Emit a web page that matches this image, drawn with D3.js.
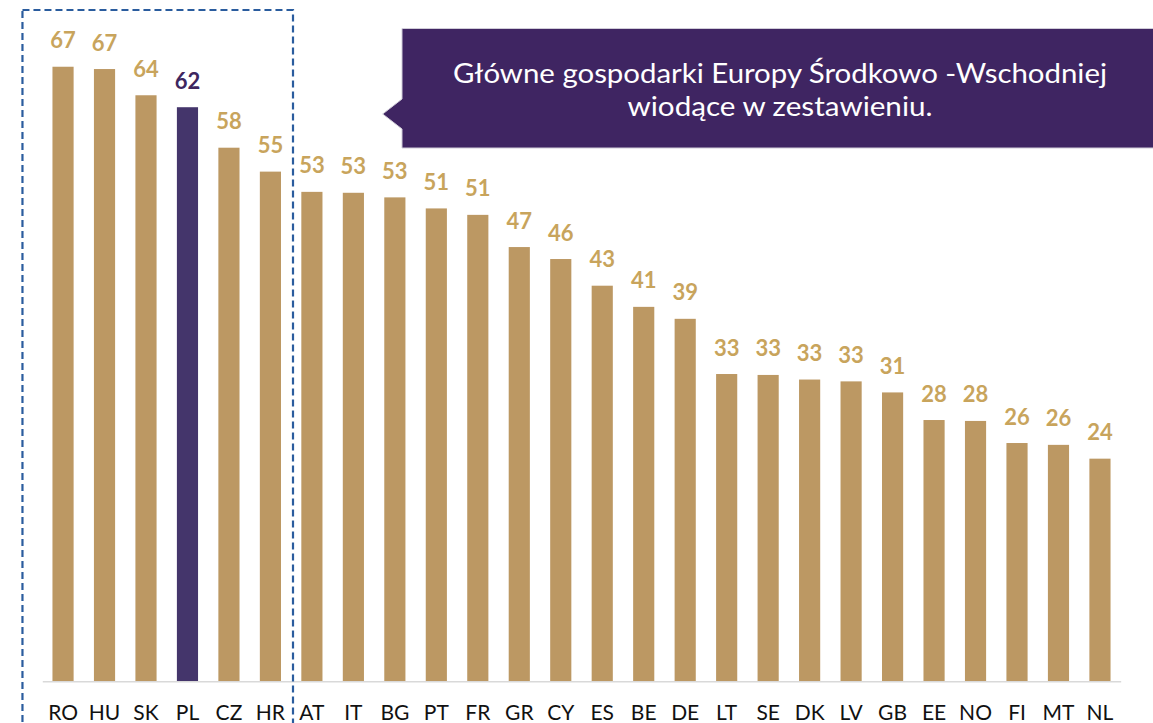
<!DOCTYPE html>
<html>
<head>
<meta charset="utf-8">
<script src="https://cdn.jsdelivr.net/npm/d3@7"></script>
<style>
  html, body { margin: 0; padding: 0; background: #fff; }
  svg { display: block; }
</style>
</head>
<body>
<svg id="chart" width="1153" height="723"></svg>
<script>
const categories = ["RO","HU","SK","PL","CZ","HR","AT","IT","BG","PT","FR","GR","CY","ES","BE","DE","LT","SE","DK","LV","GB","EE","NO","FI","MT","NL"];
const values = [66.8,66.55,63.7,62.4,58.0,55.4,53.2,53.1,52.6,51.4,50.7,47.2,45.9,43.0,40.7,39.4,33.4,33.3,32.8,32.6,31.4,28.4,28.3,25.9,25.7,24.2];
const highlight = ["PL"];
const calloutLines = ["Główne gospodarki Europy Środkowo -Wschodniej", "wiodące w zestawieniu."];
const groupCategories = ["RO","HU","SK","PL","CZ","HR"];

const W = 1153, H = 723;
const svg = d3.select("#chart");

const baseY = 681.3;
const x = d3.scaleBand().domain(categories).range([42.3, 1120.7]).paddingInner(0.49).paddingOuter(0.245);
const y = d3.scaleLinear().domain([0, 70]).range([baseY, baseY - 70 * 9.2]);

const gold = "#BC9863", goldText = "#C8A45C", purple = "#44356B", purpleText = "#3E2660";

// bars
svg.append("g").selectAll("rect").data(categories).join("rect")
  .attr("x", d => x(d))
  .attr("width", x.bandwidth())
  .attr("y", (d, i) => y(values[i]))
  .attr("height", (d, i) => y(0) - y(values[i]))
  .attr("fill", d => highlight.includes(d) ? purple : gold);

// axis
const axis = d3.axisBottom(x).tickSize(0).tickPadding(0);
const gx = svg.append("g").attr("transform", `translate(0,${baseY})`).call(axis);
gx.select(".domain").attr("stroke", "#D9D9D9").attr("stroke-width", 1.5);
gx.selectAll(".tick text")
  .attr("font-family", "Lato, 'Noto Sans', sans-serif")
  .attr("font-size", 21)
  .attr("fill", "#111")
  .attr("dy", null)
  .attr("y", 38.5);

// value labels
svg.append("g").selectAll("text").data(categories).join("text")
  .attr("x", d => x(d) + x.bandwidth() / 2)
  .attr("y", (d, i) => y(values[i]) - 18.5)
  .attr("text-anchor", "middle")
  .attr("font-family", "Lato, 'Noto Sans', sans-serif")
  .attr("font-weight", "bold")
  .attr("font-size", 22)
  .attr("fill", d => highlight.includes(d) ? purpleText : goldText)
  .text((d, i) => Math.round(values[i]));

// dashed group box
const gx0 = x(groupCategories[0]) - 30, gx1 = x(groupCategories[groupCategories.length - 1]) + x.bandwidth() + 12;
svg.append("rect")
  .attr("x", gx0).attr("y", 10)
  .attr("width", gx1 - gx0).attr("height", 740)
  .attr("fill", "none")
  .attr("stroke", "#2A5C9E")
  .attr("stroke-width", 2.2)
  .attr("stroke-dasharray", "7,4");

// callout
const bx = 402, by = 28.5, bh = 119.5, bw = W - bx + 5;
const callout = svg.append("g");
callout.append("path")
  .attr("d", `M${bx},${by} H${bx + bw} V${by + bh} H${bx} V${by + 100.5} L${382.7},${by + 85.5} L${bx},${by + 70.5} Z`)
  .attr("fill", "#3F2562")
  .attr("stroke", "#D0CCD8")
  .attr("stroke-width", 1);
const lineWidths = [654, 305];
const ct = callout.append("g")
  .attr("font-family", "Lato, 'Noto Sans', sans-serif")
  .attr("font-size", 26)
  .attr("fill", "#fff")
  .attr("text-anchor", "middle");
calloutLines.forEach((t, i) => {
  ct.append("text").attr("x", 780).attr("y", 83 + i * 33)
    .attr("textLength", lineWidths[i])
    .attr("lengthAdjust", "spacingAndGlyphs")
    .text(t);
});
</script>
</body>
</html>
